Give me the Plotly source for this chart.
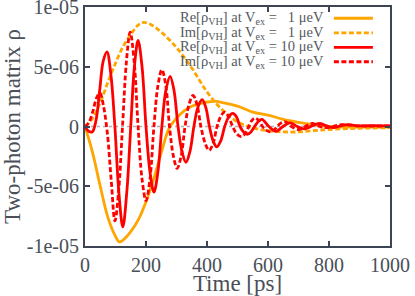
import plotly.graph_objects as go

# ---- data (values in units of 1e-6) ----
t_re1 = [0, 25, 50, 75, 100, 112, 125, 150, 175, 200, 225, 250, 275, 300, 325, 350, 400, 433, 450, 500, 550, 600, 650, 700, 750, 800, 900, 1000]
v_re1 = [0, -2.2, -5.0, -7.6, -9.2, -9.65, -9.5, -8.8, -7.8, -6.3, -4.4, -2.2, -0.2, 0.7, 1.3, 1.7, 2.05, 2.1, 2.0, 1.7, 1.2, 0.95, 0.6, 0.35, 0.15, 0.0, -0.05, -0.05]

t_im1 = [0, 25, 50, 75, 100, 125, 150, 175, 190, 210, 250, 300, 350, 400, 450, 500, 550, 600, 650, 700, 750, 800, 900, 1000]
v_im1 = [0, 0.7, 2.0, 3.7, 5.3, 6.7, 7.7, 8.5, 8.7, 8.6, 7.9, 6.6, 4.9, 2.9, 1.4, 0.4, -0.1, -0.35, -0.45, -0.45, -0.35, -0.25, -0.15, -0.1]

t_re10 = [0, 12, 24, 36, 48, 60, 72, 85, 98, 111, 124, 137, 150, 162, 174, 187, 200, 213, 226, 239, 252, 265, 279, 292, 305, 318, 331, 344, 357, 370, 384, 396, 408, 420, 432, 445, 458, 471, 484, 497, 508, 520, 532, 544, 556, 568, 580, 603, 626, 649, 672, 696, 720, 744, 768, 792, 815, 838, 862, 900, 950, 1000]
v_re10 = [0, -0.4, -0.45, 0.5, 3.0, 5.5, 6.25, 4.3, 0, -5.5, -8.4, -5.5, 0, 5.0, 7.2, 5.0, 0, -3.8, -5.5, -3.8, 0, 3.0, 4.2, 3.0, 0, -2.1, -3.0, -2.1, 0, 1.6, 2.25, 1.6, 0, -1.2, -1.7, -1.2, 0, 0.8, 1.1, 0.8, 0, -0.45, -0.65, -0.45, 0, 0.42, 0.6, 0, -0.4, 0, 0.3, 0, -0.2, 0.05, 0.25, 0.05, -0.1, 0.05, 0.15, 0.05, 0.08, 0.05]

t_im10 = [0, 12, 25, 38, 49, 60, 73, 86, 98, 110, 123, 136, 148, 161, 174, 187, 200, 213, 226, 239, 252, 265, 277, 290, 302, 315, 328, 341, 354, 367, 380, 394, 407, 420, 433, 446, 458, 470, 484, 497, 512, 525, 537, 547, 557, 570, 582, 595, 607, 619, 630, 642, 654, 666, 677, 700, 722, 745, 770, 795, 840, 900, 1000]
v_im10 = [0, 0.3, 1.2, 2.4, 2.8, 1.8, -0.5, -4.5, -7.9, -5.5, 0, 5.5, 7.9, 5.5, 0, -4.4, -6.2, -4.4, 0, 3.4, 4.75, 3.4, 0, -2.5, -3.5, -2.5, 0, 1.85, 2.6, 1.85, 0, -1.4, -2.0, -1.4, 0, 0.9, 1.2, 0.85, 0, -0.6, -0.85, -0.6, 0, 0.5, 0.7, 0.5, 0, -0.32, -0.45, -0.32, 0, 0.28, 0.4, 0.28, 0, -0.25, 0, 0.25, 0, -0.1, 0.15, 0.05, 0.05]

x_ticks = [0, 200, 400, 600, 800, 1000]
y_tickvals = [-1e-05, -5e-06, 0, 5e-06, 1e-05]
y_ticktext = ["-1e-05", "-5e-06", "0", "5e-06", "1e-05"]

legend_labels = [
    "Re[ρ<sub>VH</sub>] at V<sub>ex</sub> =\u00a0\u00a0\u00a01 μeV",
    "Im[ρ<sub>VH</sub>] at V<sub>ex</sub> =\u00a0\u00a0\u00a01 μeV",
    "Re[ρ<sub>VH</sub>] at V<sub>ex</sub> = 10 μeV",
    "Im[ρ<sub>VH</sub>] at V<sub>ex</sub> = 10 μeV",
]

ORANGE = "#FFA500"
RED = "#FF0000"
DASH = "5px,2.5px"
styles = [(ORANGE, "solid"), (ORANGE, DASH), (RED, "solid"), (RED, DASH)]
series = [(t_re1, v_re1), (t_im1, v_im1), (t_re10, v_re10), (t_im10, v_im10)]

SERIF = "Liberation Serif, Times New Roman, DejaVu Serif, serif"

fig = go.Figure()
for (tt, vv), (col, dash) in zip(series, styles):
    fig.add_trace(go.Scatter(
        x=tt, y=[v * 1e-6 for v in vv], mode="lines",
        line=dict(color=col, width=2.8, dash=dash, shape="spline", smoothing=1.0),
        showlegend=False, hoverinfo="skip"))

# zero reference line
fig.add_shape(type="line", xref="paper", yref="y", x0=0, x1=1, y0=0, y1=0,
              line=dict(color="#b0b0b0", width=1.5, dash="dot"), layer="below")

# manual legend (text right-aligned, sample on the right)
row_y = [0.953, 0.892, 0.831, 0.771]
for lab, (col, dash), yy in zip(legend_labels, styles, row_y):
    fig.add_annotation(xref="paper", yref="paper", x=0.790, y=yy, text=lab,
                       showarrow=False, xanchor="right", yanchor="middle",
                       font=dict(family=SERIF, size=14.5, color="#555a60"))
    fig.add_shape(type="line", xref="paper", yref="paper", x0=0.816, x1=0.944,
                  y0=yy, y1=yy, line=dict(color=col, width=2.8, dash=dash))

AX = "#3d4453"
TXT = "#4a4f58"
fig.update_layout(
    width=415, height=296,
    margin=dict(l=85, r=25, t=7, b=50, autoexpand=False),
    paper_bgcolor="white", plot_bgcolor="white",
    font=dict(family=SERIF, color=TXT),
    xaxis=dict(range=[0, 1000], tickvals=x_ticks, ticks="inside", ticklen=5, tickwidth=1.5,
               tickcolor=AX, showline=True, linecolor=AX, linewidth=2, mirror="ticks",
               showgrid=False, zeroline=False, automargin=False, ticklabeloverflow="allow",
               tickfont=dict(family=SERIF, size=20, color=TXT),
               title=dict(text="Time [ps]", font=dict(family=SERIF, size=23, color=TXT), standoff=2)),
    yaxis=dict(range=[-1e-05, 1e-05], tickvals=y_tickvals, ticktext=y_ticktext,
               ticks="inside", ticklen=5, tickwidth=1.5, tickcolor=AX,
               showline=True, linecolor=AX, linewidth=2, mirror="ticks",
               showgrid=False, zeroline=False, automargin=False, ticklabeloverflow="allow",
               tickfont=dict(family=SERIF, size=20, color=TXT),
               title=dict(text="Two-photon matrix ρ", font=dict(family=SERIF, size=23, color=TXT), standoff=4)),
)

fig.write_html("out.html", config={"displayModeBar": False},
               post_script="document.body.style.margin='0';")
